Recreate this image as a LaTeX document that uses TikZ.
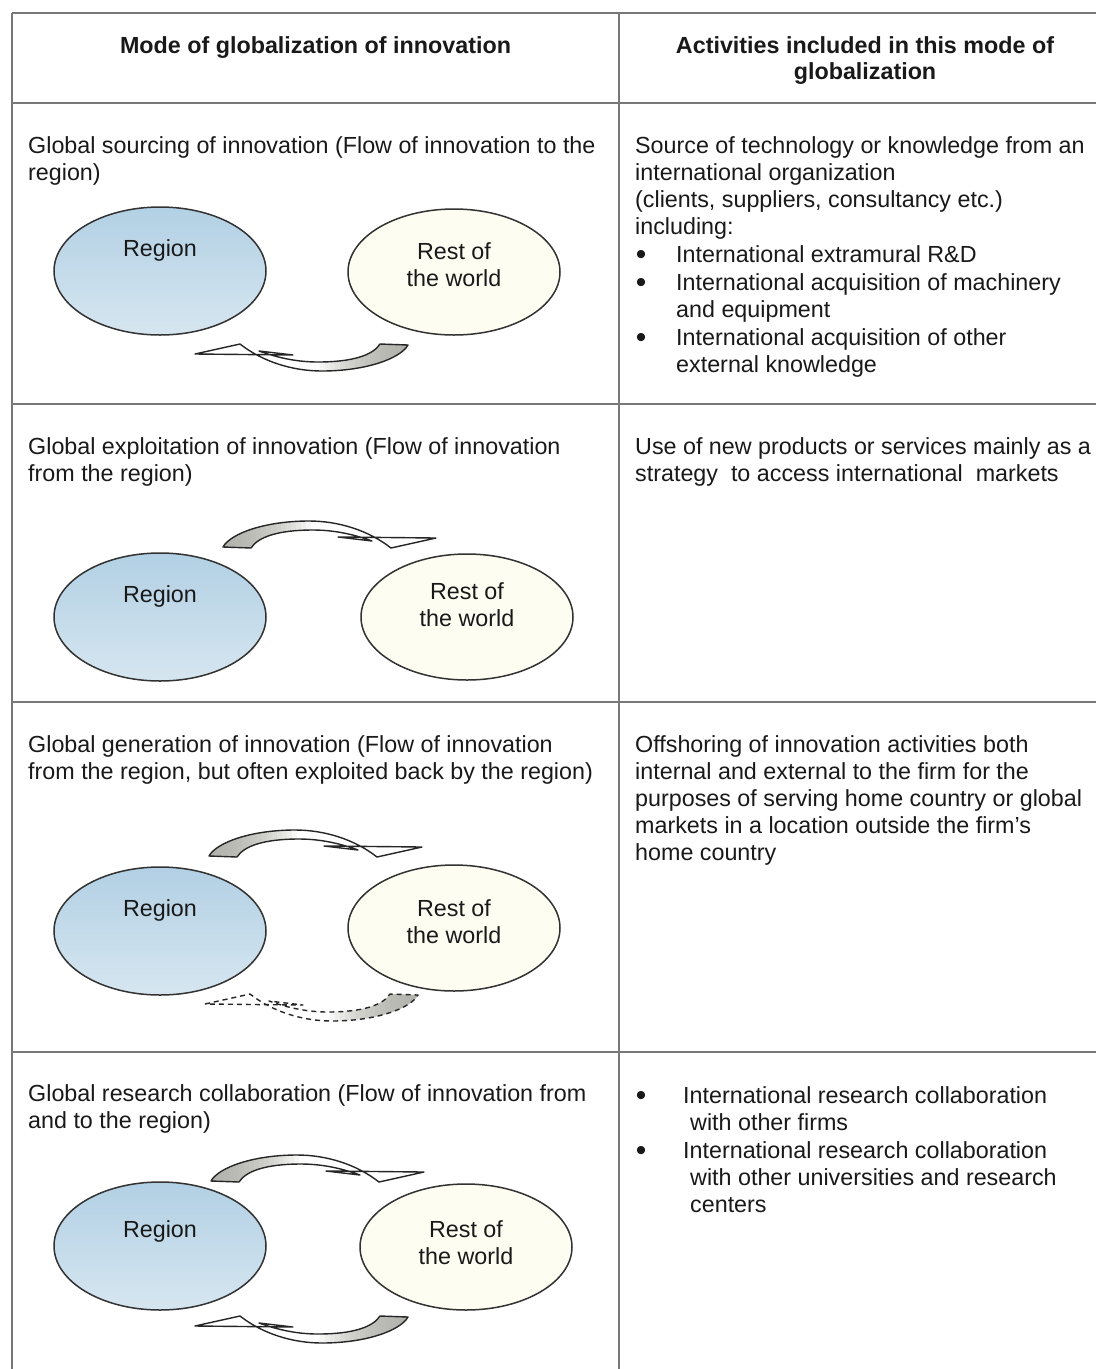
\documentclass[tikz,border=0pt]{standalone}
\usepackage{fontspec}
\setmainfont{Liberation Sans}
\usetikzlibrary{shapes.geometric}
\definecolor{tlinecol}{RGB}{120,120,120}
\definecolor{regtop}{RGB}{178,208,228}
\definecolor{regbot}{RGB}{214,230,240}
\definecolor{restfill}{RGB}{253,253,242}
\definecolor{arrgray}{RGB}{170,170,162}
\definecolor{ink}{RGB}{25,25,25}
\definecolor{ellcol}{RGB}{50,50,50}
\begin{document}
\begin{tikzpicture}[x=1pt,y=-1pt,
  tline/.style={draw=tlinecol, line width=1.8pt},
  txt/.style={anchor=north west, inner sep=0pt, align=left, text=ink, font=\fontsize{23.3}{27}\selectfont},
  hdr/.style={inner sep=0pt, align=center, text=ink, font=\bfseries\fontsize{23.3}{26}\selectfont},
  lbl/.style={inner sep=0pt, align=center, text=ink, font=\fontsize{23.3}{27}\selectfont},
  bul/.style={anchor=base, inner sep=0pt, text=ink, font=\fontsize{30}{27}\selectfont},
  regell/.style={ellipse, draw=ellcol, line width=1.5pt, minimum width=212pt, minimum height=128pt, inner sep=0pt, top color=regtop, bottom color=regbot},
  restell/.style={ellipse, draw=ellcol, line width=1.5pt, minimum width=212pt, minimum height=126pt, inner sep=0pt, fill=restfill},
  arrline/.style={draw=black!85, line width=1.4pt, line join=round},
  arrdash/.style={dash pattern=on 5pt off 4pt},
  pics/flowarrow/.style={code={
    \begin{scope}
      \clip (0,10) -- (45,0) .. controls (68,18) and (98,27) .. (127,27) .. controls (170,27) and (205,15) .. (213,1) -- (185,0) .. controls (178,11) and (158,18) .. (123,18) .. controls (98,18) and (78,12) .. (64,7) -- (98,11) -- cycle;
      \fill[white] (-2,-2) rectangle (216,30);
      \foreach \i in {0,...,17} {\fill[arrgray, opacity=0.1] (125+\i*5,-2) rectangle (216,30);}
    \end{scope}
    \draw[arrline] (0,10) -- (45,0) .. controls (68,18) and (98,27) .. (127,27) .. controls (170,27) and (205,15) .. (213,1) -- (185,0) .. controls (178,11) and (158,18) .. (123,18) .. controls (98,18) and (78,12) .. (64,7) -- (98,11) -- cycle;
  }}
]
\useasboundingbox (0,0) rectangle (1096,1369);
\fill[white] (0,0) rectangle (1096,1369);

% table lines
\draw[tline] (12,13) -- (1096,13);
\draw[tline] (12,103) -- (1096,103);
\draw[tline] (12,404) -- (1096,404);
\draw[tline] (12,702) -- (1096,702);
\draw[tline] (12,1052) -- (1096,1052);
\draw[tline] (12,13) -- (12,1369);
\draw[tline] (619,13) -- (619,1369);

% headers
\node[hdr, anchor=base] (hl) at (315.5,53) {Mode of globalization of innovation};
\node[hdr, anchor=north] (hr) at (865,34.8) {\strut Activities included in this mode of\\globalization};

% row 1
\node[txt] (t1l) at (28,134.1) {\strut Global sourcing of innovation (Flow of innovation to the\\region)};
\node[txt] (t1r) at (635,134.1) {\strut Source of technology or knowledge from an\\international organization\\(clients, suppliers, consultancy etc.)\\including:};
\node[bul] (b11) at (641,264) {•};
\node[txt] (i11) at (676,243.1) {\strut International extramural R\&D};
\node[bul] (b12) at (641,292) {•};
\node[txt] (i12) at (676,271.1) {\strut International acquisition of machinery\\and equipment};
\node[bul] (b13) at (641,347) {•};
\node[txt] (i13) at (676,326.1) {\strut International acquisition of other\\external knowledge};

\node[regell] (reg1) at (160,271) {};
\node[restell] (rest1) at (454,272) {};
\node[lbl, anchor=base] (reg1t) at (160,256) {Region};
\node[lbl, anchor=north] (rest1t) at (454,240.1) {\strut Rest of\\the world};
\pic (a1) at (195,344) {flowarrow};

% row 2
\node[txt] (t2l) at (28,435.1) {\strut Global exploitation of innovation (Flow of innovation\\from the region)};
\node[txt] (t2r) at (635,435.1) {\strut Use of new products or services mainly as a\\strategy\ \ to access international\ \ markets};

\node[regell] (reg2) at (160,617) {};
\node[restell] (rest2) at (467,617) {};
\node[lbl, anchor=base] (reg2t) at (160,602) {Region};
\node[lbl, anchor=north] (rest2t) at (467,580.1) {\strut Rest of\\the world};
\pic[rotate=180] (a2) at (436,548) {flowarrow};

% row 3
\node[txt] (t3l) at (28,733.1) {\strut Global generation of innovation (Flow of innovation\\from the region, but often exploited back by the region)};
\node[txt] (t3r) at (635,733.1) {\strut Offshoring of innovation activities both\\internal and external to the firm for the\\purposes of serving home country or global\\markets in a location outside the firm's\\home country};

\node[regell] (reg3) at (160,931) {};
\node[restell] (rest3) at (454,928) {};
\node[lbl, anchor=base] (reg3t) at (160,916) {Region};
\node[lbl, anchor=north] (rest3t) at (454,897.1) {\strut Rest of\\the world};
\pic[rotate=180] (a3) at (422,857) {flowarrow};
\pic[arrdash] (a4) at (205,994) {flowarrow};

% row 4
\node[txt] (t4l) at (28,1082.1) {\strut Global research collaboration (Flow of innovation from\\and to the region)};
\node[bul] (b41) at (641,1105) {•};
\node[txt] (i41) at (683,1084.1) {\strut International research collaboration\\\hspace*{7pt}with other firms};
\node[bul] (b42) at (641,1160) {•};
\node[txt] (i42) at (683,1139.1) {\strut International research collaboration\\\hspace*{7pt}with other universities and research\\\hspace*{7pt}centers};

\node[regell] (reg4) at (160,1246) {};
\node[restell] (rest4) at (466,1247) {};
\node[lbl, anchor=base] (reg4t) at (160,1237) {Region};
\node[lbl, anchor=north] (rest4t) at (466,1218.1) {\strut Rest of\\the world};
\pic[rotate=180] (a5) at (424,1182) {flowarrow};
\pic (a6) at (195,1316) {flowarrow};
\end{tikzpicture}
\end{document}
